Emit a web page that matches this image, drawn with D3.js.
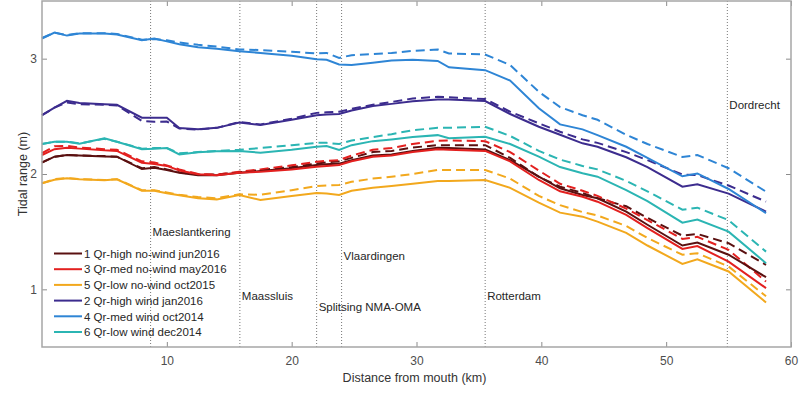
<!DOCTYPE html>
<html>
<head>
<meta charset="utf-8">
<script src="https://cdn.jsdelivr.net/npm/d3@7"></script>
<style>
	body { margin: 0; background: #fff; }
	svg { font-family: 'Liberation Sans', Arial, sans-serif; }
	.tick text { fill: #4d4d4d; font-size: 12px; }
	.axisLabel { fill: #333; font-size: 12.5px; }
	.station { fill: #262626; font-size: 11.5px; }
	.legendText { fill: #262626; font-size: 11.5px; }
</style>
</head>
<body>
<svg id="chart" width="800" height="395"></svg>
<script>
// distance from mouth (km) of the points along the river
const km = [0, 1, 2, 3, 5, 6, 8, 9, 10, 11, 12.5, 14, 15.8, 17.5, 20, 22, 22.8, 23.8, 24.8, 26.5,
	28, 29.7, 31.7, 32.6, 35.5, 37.5, 39.8, 41.5, 43.3, 44.5, 46.8, 48.5, 51.3, 52.5, 55, 58];

// solid lines
const highNoWind = [2.098, 2.15, 2.165, 2.16, 2.152, 2.15, 2.043, 2.055, 2.035, 2.01, 1.99, 1.99, 2.01, 2.025, 2.05, 2.078, 2.085, 2.09, 2.12, 2.16,
	2.17, 2.2, 2.228, 2.225, 2.213, 2.12, 1.977, 1.876, 1.818, 1.79, 1.674, 1.56, 1.38, 1.405, 1.3, 1.105];
const medNoWind = [2.165, 2.215, 2.228, 2.22, 2.205, 2.2, 2.098, 2.087, 2.07, 2.03, 1.997, 1.99, 2.01, 2.02, 2.04, 2.063, 2.07, 2.078, 2.11, 2.15,
	2.16, 2.19, 2.214, 2.21, 2.2, 2.11, 1.948, 1.85, 1.803, 1.76, 1.645, 1.53, 1.35, 1.375, 1.24, 1.01];
const lowNoWind = [1.92, 1.95, 1.963, 1.955, 1.945, 1.954, 1.855, 1.855, 1.833, 1.815, 1.79, 1.78, 1.818, 1.775, 1.81, 1.835, 1.83, 1.818, 1.855, 1.88,
	1.895, 1.915, 1.94, 1.94, 1.948, 1.88, 1.752, 1.665, 1.63, 1.587, 1.49, 1.38, 1.22, 1.26, 1.155, 0.886];
const highWind = [2.51, 2.575, 2.635, 2.615, 2.605, 2.6, 2.488, 2.488, 2.488, 2.398, 2.387, 2.4, 2.446, 2.425, 2.47, 2.51, 2.515, 2.52, 2.55, 2.59,
	2.608, 2.63, 2.647, 2.645, 2.632, 2.52, 2.41, 2.34, 2.266, 2.236, 2.145, 2.06, 1.89, 1.91, 1.83, 1.674];
const medWind = [3.175, 3.227, 3.2, 3.218, 3.218, 3.21, 3.16, 3.175, 3.15, 3.125, 3.1, 3.085, 3.065, 3.05, 3.025, 2.995, 2.99, 2.95, 2.945, 2.965,
	2.985, 2.99, 2.98, 2.925, 2.9, 2.81, 2.57, 2.43, 2.387, 2.337, 2.236, 2.14, 1.98, 2.005, 1.87, 1.66];
const lowWind = [2.26, 2.28, 2.28, 2.262, 2.31, 2.28, 2.215, 2.22, 2.225, 2.17, 2.188, 2.198, 2.2, 2.185, 2.21, 2.236, 2.242, 2.208, 2.25, 2.285,
	2.3, 2.32, 2.337, 2.31, 2.323, 2.26, 2.15, 2.06, 2.006, 1.977, 1.86, 1.764, 1.578, 1.605, 1.5, 1.227];

// dashed lines
const highNoWindDash = [2.1, 2.15, 2.165, 2.16, 2.155, 2.15, 2.05, 2.06, 2.04, 2.015, 1.995, 1.995, 2.015, 2.035, 2.06, 2.09, 2.1, 2.11, 2.14, 2.19,
	2.2, 2.23, 2.25, 2.25, 2.25, 2.14, 1.975, 1.89, 1.835, 1.79, 1.72, 1.62, 1.465, 1.48, 1.4, 1.212];
const medNoWindDash = [2.18, 2.24, 2.245, 2.23, 2.215, 2.21, 2.11, 2.1, 2.075, 2.04, 2.0, 1.995, 2.02, 2.04, 2.075, 2.106, 2.115, 2.12, 2.16, 2.21,
	2.225, 2.26, 2.288, 2.29, 2.285, 2.19, 2.03, 1.915, 1.855, 1.81, 1.7, 1.6, 1.437, 1.455, 1.342, 1.067];
const lowNoWindDash = [1.92, 1.955, 1.965, 1.955, 1.948, 1.955, 1.86, 1.86, 1.84, 1.82, 1.8, 1.79, 1.824, 1.82, 1.86, 1.896, 1.9, 1.905, 1.933, 1.96,
	1.977, 2.0, 2.035, 2.035, 2.035, 1.96, 1.81, 1.73, 1.67, 1.64, 1.55, 1.445, 1.3, 1.313, 1.198, 0.94];
const highWindDash = [2.51, 2.575, 2.62, 2.605, 2.6, 2.595, 2.46, 2.453, 2.455, 2.395, 2.385, 2.4, 2.45, 2.43, 2.48, 2.53, 2.535, 2.54, 2.565, 2.6,
	2.625, 2.655, 2.67, 2.665, 2.65, 2.54, 2.44, 2.366, 2.3, 2.27, 2.19, 2.12, 1.995, 1.99, 1.9, 1.76];
const medWindDash = [3.18, 3.225, 3.205, 3.22, 3.22, 3.215, 3.165, 3.17, 3.16, 3.14, 3.12, 3.105, 3.08, 3.075, 3.06, 3.045, 3.05, 3.007, 3.03, 3.04,
	3.05, 3.068, 3.08, 3.045, 3.036, 2.945, 2.713, 2.58, 2.51, 2.47, 2.34, 2.26, 2.148, 2.165, 2.05, 1.847];
const lowWindDash = [2.26, 2.28, 2.28, 2.265, 2.305, 2.28, 2.22, 2.225, 2.225, 2.18, 2.19, 2.2, 2.21, 2.225, 2.25, 2.27, 2.27, 2.26, 2.29, 2.32,
	2.345, 2.38, 2.4, 2.4, 2.41, 2.33, 2.2, 2.125, 2.07, 2.04, 1.94, 1.85, 1.69, 1.708, 1.6, 1.327];

const seriesNames = ['1 Qr-high no-wind jun2016', '3 Qr-med no-wind may2016', '5 Qr-low no-wind oct2015',
	'2 Qr-high wind jan2016', '4 Qr-med wind oct2014', '6 Qr-low wind dec2014'];
const solidValues = [highNoWind, medNoWind, lowNoWind, highWind, medWind, lowWind];
const dashedValues = [highNoWindDash, medNoWindDash, lowNoWindDash, highWindDash, medWindDash, lowWindDash];
const colors = ['#5a1010', '#e3201f', '#f2a81d', '#3c2c8e', '#2e85d5', '#2bb5b3'];

const stationNames = ['Maeslantkering', 'Maassluis', 'Splitsing NMA-OMA', 'Vlaardingen', 'Rotterdam', 'Dordrecht'];
const stationKm = [8.7, 15.85, 22.0, 24.0, 35.5, 54.9];
const stationLabelY = [1.5, 0.94, 0.85, 1.29, 0.94, 2.6];

const xTicks = [10, 20, 30, 40, 50, 60];
const yTicks = [1, 2, 3];

let svg = d3.select('#chart');
let plotLeft = 42, plotRight = 791, plotTop = 1, plotBottom = 347;

let x = d3.scaleLinear().domain([0, 60]).range([plotLeft, plotRight]);
let y = d3.scaleLinear().domain([0.5, 3.5]).range([plotBottom, plotTop]);

// station markers
stationKm.forEach((d, i) => {
	svg.append('line')
		.attr('x1', x(d)).attr('x2', x(d))
		.attr('y1', plotTop).attr('y2', plotBottom)
		.attr('stroke', '#777')
		.attr('stroke-width', 1)
		.attr('stroke-dasharray', '1,2');
	svg.append('text')
		.attr('class', 'station')
		.attr('x', x(d) + 2)
		.attr('y', y(stationLabelY[i]) + 4)
		.text(stationNames[i]);
});

let line = d3.line()
	.x((d, i) => x(km[i]))
	.y((d) => y(d));

// dashed first, solid on top
for (let i = 0; i < dashedValues.length; i++) {
	svg.append('path')
		.datum(dashedValues[i])
		.attr('d', line)
		.attr('fill', 'none')
		.attr('stroke', colors[i])
		.attr('stroke-width', 2)
		.attr('stroke-dasharray', '9,5');
}
for (let i = 0; i < solidValues.length; i++) {
	svg.append('path')
		.datum(solidValues[i])
		.attr('d', line)
		.attr('fill', 'none')
		.attr('stroke', colors[i])
		.attr('stroke-width', 2);
}

// axes, MATLAB style: ticks inward on all sides
let axisColor = '#a6a6a6';
let xAxis = svg.append('g')
	.attr('transform', 'translate(0,' + plotBottom + ')')
	.call(d3.axisBottom(x).tickValues(xTicks).tickSize(-5).tickPadding(9).tickFormat(d3.format('d')));
let yAxis = svg.append('g')
	.attr('transform', 'translate(' + plotLeft + ',0)')
	.call(d3.axisLeft(y).tickValues(yTicks).tickSize(-5).tickPadding(5).tickFormat(d3.format('d')));
let xTop = svg.append('g')
	.attr('transform', 'translate(0,' + plotTop + ')')
	.call(d3.axisTop(x).tickValues(xTicks).tickSize(-5).tickFormat(''));
let yRight = svg.append('g')
	.attr('transform', 'translate(' + plotRight + ',0)')
	.call(d3.axisRight(y).tickValues(yTicks).tickSize(-5).tickFormat(''));

[xAxis, yAxis, xTop, yRight].forEach((g) => {
	g.select('.domain').remove();
	g.selectAll('.tick line').attr('stroke', '#8c8c8c');
});

svg.append('rect')
	.attr('x', plotLeft).attr('y', plotTop)
	.attr('width', plotRight - plotLeft).attr('height', plotBottom - plotTop)
	.attr('fill', 'none')
	.attr('stroke', axisColor)
	.attr('stroke-width', 1.5);

svg.append('text')
	.attr('class', 'axisLabel')
	.attr('x', (plotLeft + plotRight) / 2 - 2)
	.attr('y', 382)
	.attr('text-anchor', 'middle')
	.text('Distance from mouth (km)');

svg.append('text')
	.attr('class', 'axisLabel')
	.attr('transform', 'translate(27,' + y(2) + ') rotate(-90)')
	.attr('text-anchor', 'middle')
	.text('Tidal range (m)');

// legend
let legend = svg.selectAll('.legend')
	.data(seriesNames)
	.enter().append('g')
	.attr('class', 'legend')
	.attr('transform', (d, i) => 'translate(54,' + (253.5 + i * 15.7) + ')');

legend.append('line')
	.attr('x1', 0).attr('x2', 28)
	.attr('stroke', (d, i) => colors[i])
	.attr('stroke-width', 2);

legend.append('text')
	.attr('class', 'legendText')
	.attr('x', 30)
	.attr('dy', 4.2)
	.text((d) => d);
</script>
</body>
</html>
